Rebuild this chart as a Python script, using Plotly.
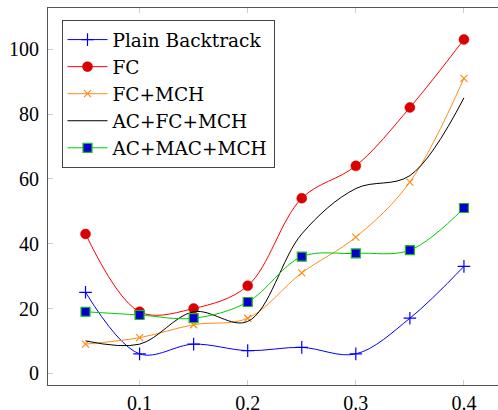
import plotly.graph_objects as go

x_vals = [0.05, 0.1, 0.15, 0.2, 0.25, 0.3, 0.35, 0.4]
plain_backtrack = [25, 6, 9, 7, 8, 6, 17, 33]
fc = [43, 19, 20, 27, 54, 64, 82, 103]
fc_mch = [9, 11, 15, 17, 31, 42, 59, 91]
ac_fc_mch = [10, 9, 19, 16, 43, 57, 61, 85]
ac_mac_mch = [19, 18, 17, 22, 36, 37, 38, 51]

TICK_FONT = "'Liberation Serif', 'DejaVu Serif', serif"
LEG_FONT = "'DejaVu Serif', serif"

fig = go.Figure()
fig.add_trace(go.Scatter(
    x=x_vals, y=plain_backtrack, name="Plain Backtrack", mode="lines+markers",
    line=dict(color="#0000ff", width=1, shape="spline", smoothing=1.0),
    marker=dict(symbol="cross-thin", size=9, line=dict(color="#0000ff", width=1.2))))
fig.add_trace(go.Scatter(
    x=x_vals, y=fc, name="FC", mode="lines+markers",
    line=dict(color="#ff0000", width=1, shape="spline", smoothing=1.0),
    marker=dict(symbol="circle", size=10, color="#d90000", line=dict(color="#e00000", width=0.5))))
fig.add_trace(go.Scatter(
    x=x_vals, y=fc_mch, name="FC+MCH", mode="lines+markers",
    line=dict(color="#ff8c1a", width=1, shape="spline", smoothing=1.0),
    marker=dict(symbol="x-thin", size=7, line=dict(color="#ff8c1a", width=1.2))))
fig.add_trace(go.Scatter(
    x=x_vals, y=ac_fc_mch, name="AC+FC+MCH", mode="lines",
    line=dict(color="#000000", width=1, shape="spline", smoothing=1.0)))
fig.add_trace(go.Scatter(
    x=x_vals, y=ac_mac_mch, name="AC+MAC+MCH", mode="lines+markers",
    line=dict(color="#00cc00", width=1, shape="spline", smoothing=1.0),
    marker=dict(symbol="square", size=9, color="#0000cc", line=dict(color="#20bb20", width=1.2))))

fig.update_layout(
    width=498, height=410,
    margin=dict(l=48, r=0, t=8, b=25, autoexpand=False),
    plot_bgcolor="white", paper_bgcolor="white",
    font=dict(family=TICK_FONT, size=20, color="#000"),
    showlegend=True,
    legend=dict(x=0.03, y=0.968, xanchor="left", yanchor="top",
                bgcolor="white", bordercolor="#444", borderwidth=1,
                font=dict(family=LEG_FONT, size=18.5), itemwidth=40,
                tracegroupgap=0),
    xaxis=dict(range=[0.0153, 0.4315], tickvals=[0.1, 0.2, 0.3, 0.4],
               ticktext=["0.1", "0.2", "0.3", "0.4"], automargin=False,
               showgrid=False, zeroline=False, showline=True, linecolor="#555", linewidth=1,
               mirror="ticks", ticks="inside", ticklen=5, tickcolor="#ccc",
               tickfont=dict(family=TICK_FONT, size=20)),
    yaxis=dict(range=[-3.6, 112.7], tickvals=[0, 20, 40, 60, 80, 100], automargin=False,
               showgrid=False, zeroline=False, showline=True, linecolor="#555", linewidth=1,
               ticks="inside", ticklen=5, tickcolor="#ccc", ticklabelstandoff=4,
               tickfont=dict(family=TICK_FONT, size=20)),
)

fig.write_html("out.html", config={"displayModeBar": False},
               post_script="document.body.style.margin='0px';")
